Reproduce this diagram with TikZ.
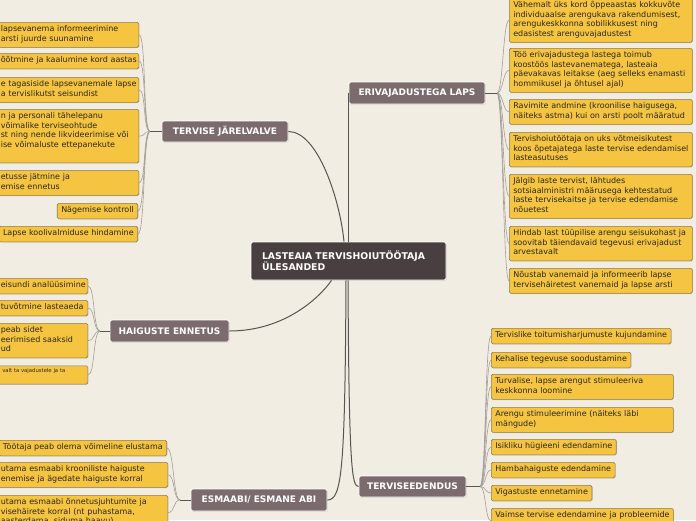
\documentclass[tikz,border=0pt]{standalone}
\usepackage{fontspec}
\setmainfont{DejaVu Sans}
\usetikzlibrary{shadows,calc}
\definecolor{bgc}{HTML}{F2EDE3}
\definecolor{leaffill}{HTML}{F5C542}
\definecolor{leafborder}{HTML}{8E7B4E}
\definecolor{leaftext}{HTML}{2B2620}
\definecolor{branchc}{HTML}{7B6B6D}
\definecolor{centerc}{HTML}{4A3F40}
\definecolor{mainln}{HTML}{5A5354}
\definecolor{leafln}{HTML}{A39D99}
\newcommand\tlines[1]{\begin{tabular}{@{}l@{}}#1\end{tabular}}
\begin{document}
\begin{tikzpicture}[x=1pt,y=-1pt,
  leaf/.style={draw=leafborder, fill=leaffill, rounded corners=1.5pt, line width=0.6pt,
    inner xsep=4pt, inner ysep=3pt, font=\fontsize{8}{9.5}\selectfont, text=leaftext, align=left,
    drop shadow={shadow xshift=0.6pt, shadow yshift=-0.7pt, opacity=0.25}},
  branch/.style={draw=white, line width=0.8pt, fill=branchc, rounded corners=1.5pt, text=white,
    font=\bfseries\fontsize{9}{11}\selectfont, inner sep=0pt,
    drop shadow={shadow xshift=0.6pt, shadow yshift=-0.7pt, opacity=0.3}},
  centerbox/.style={draw=white, line width=0.8pt, fill=centerc, rounded corners=1.5pt, text=white,
    font=\bfseries\fontsize{9.3}{11}\selectfont, align=left, inner xsep=11pt,
    drop shadow={shadow xshift=0.6pt, shadow yshift=-0.7pt, opacity=0.3}},
  mainline/.style={draw=mainln, line width=1pt},
  leafline/.style={draw=leafln, line width=0.6pt}
]
\useasboundingbox (0,0) rectangle (696,520);
\fill[bgc] (0,0) rectangle (696,520);

% hubs
\coordinate (TJhub) at (150,131.5);
\coordinate (ELhub) at (497,93);
\coordinate (HEhub) at (100,331);
\coordinate (EAhub) at (180,500);
\coordinate (TEhub) at (480,486.5);

% ---- leaves: TERVISE JARELVALVE
\node[leaf, anchor=north west, text width=134pt] (L1) at (-3.5,22) {\tlines{lapsevanema informeerimine\\arsti juurde suunamine}};
\node[leaf, anchor=north west, text width=134pt] (L2) at (-3.5,53) {\tlines{õõtmine ja kaalumine kord aastas}};
\node[leaf, anchor=north west, text width=134pt] (L3) at (-3.5,77) {\tlines{e tagasiside lapsevanemale lapse\\a tervislikutst seisundist}};
\node[leaf, anchor=north west, text width=134pt] (L4) at (-3.5,109) {\tlines{n ja personali tähelepanu\\võimalike terviseohtude\\st ning nende likvideerimise või\\ise võimaluste ettepanekute\\\mbox{}}};
\node[leaf, anchor=north west, text width=134pt] (L5) at (-3.5,170) {\tlines{etusse jätmine ja\\emise ennetus}};
\node[leaf, anchor=north east] (L6) at (138,203) {\tlines{Nägemise kontroll}};
\node[leaf, anchor=north east] (L7) at (138,226) {\tlines{Lapse koolivalmiduse hindamine}};

% ---- leaves: HAIGUSTE ENNETUS
\node[leaf, anchor=north west, text width=83pt] (H1) at (-3.5,278) {\tlines{eisundi analüüsimine}};
\node[leaf, anchor=north west, text width=83pt] (H2) at (-3.5,300) {\tlines{tuvõtmine lasteaeda}};
\node[leaf, anchor=north west, text width=83pt] (H3) at (-3.5,323) {\tlines{peab sidet\\eerimised saaksid\\ud}};
\node[leaf, anchor=north west, text width=83pt, font=\fontsize{5.3}{6}\selectfont, text height=3.9pt, text depth=8.4pt] (H4) at (-3.5,365.5) {\hspace*{1.5pt}valt ta vajadustele ja ta};

% ---- leaves: ESMAABI
\node[leaf, anchor=north east] (E1) at (167,440) {\tlines{Töötaja peab olema võimeline elustama}};
\node[leaf, anchor=north west, text width=163pt] (E2) at (-3.5,462) {\tlines{utama esmaabi krooniliste haiguste\\enemise ja ägedate haiguste korral}};
\node[leaf, anchor=north west, text width=163pt] (E3) at (-3.5,495) {\tlines{utama esmaabi õnnetusjuhtumite ja\\visehäirete korral (nt puhastama,\\aasterdama, siduma haavu)}};

% ---- leaves: ERIVAJADUSTEGA LAPS
\node[leaf, anchor=north west, text width=175pt] (R1) at (509,-2) {\tlines{Vähemalt üks kord õppeaastas kokkuvõte\\individuaalse arengukava rakendumisest,\\arengukeskkonna sobilikkusest ning\\edasistest arenguvajadustest}};
\node[leaf, anchor=north west, text width=175pt] (R2) at (509,48) {\tlines{Töö erivajadustega lastega toimub\\koostöös lastevanematega, lasteaia\\päevakavas leitakse (aeg selleks enamasti\\hommikusel ja õhtusel ajal)}};
\node[leaf, anchor=north west, text width=175pt] (R3) at (509,99) {\tlines{Ravimite andmine (kroonilise haigusega,\\näiteks astma) kui on arsti poolt määratud}};
\node[leaf, anchor=north west, text width=175pt] (R4) at (509,132) {\tlines{Tervishoiutöötaja on uks võtmeisikutest\\koos õpetajatega laste tervise edendamisel\\lasteasutuses}};
\node[leaf, anchor=north west, text width=175pt] (R5) at (509,174) {\tlines{Jälgib laste tervist, lähtudes\\sotsiaalministri määrusega kehtestatud\\laste tervisekaitse ja tervise edendamise\\nõuetest}};
\node[leaf, anchor=north west, text width=175pt] (R6) at (509,226) {\tlines{Hindab last tüüpilise arengu seisukohast ja\\soovitab täiendavaid tegevusi erivajadust\\arvestavalt}};
\node[leaf, anchor=north west, text width=175pt] (R7) at (509,268) {\tlines{Nõustab vanemaid ja informeerib lapse\\tervisehäiretest vanemaid ja lapse arsti}};

% ---- leaves: TERVISEEDENDUS
\node[leaf, anchor=north west] (T1) at (491,328) {\tlines{Tervislike toitumisharjumuste kujundamine}};
\node[leaf, anchor=north west] (T2) at (491,352) {\tlines{Kehalise tegevuse soodustamine}};
\node[leaf, anchor=north west, text width=174pt] (T3) at (491,374) {\tlines{Turvalise, lapse arengut stimuleeriva\\keskkonna loomine}};
\node[leaf, anchor=north west, text width=174pt] (T4) at (491,407) {\tlines{Arengu stimuleerimine (näiteks läbi\\mängude)}};
\node[leaf, anchor=north west] (T5) at (491,439) {\tlines{Isikliku hügieeni edendamine}};
\node[leaf, anchor=north west] (T6) at (491,462) {\tlines{Hambahaiguste edendamine}};
\node[leaf, anchor=north west] (T7) at (491,485) {\tlines{Vigastuste ennetamine}};
\node[leaf, anchor=north west, text width=174pt] (T8) at (491,508) {\tlines{Vaimse tervise edendamine ja probleemide\\\mbox{}}};

% ---- leaf connectors
\foreach \n in {L1,L2,L3,L4,L5,L6,L7}
  \draw[leafline] (TJhub) .. controls +(-7,0) and +(7,0) .. (\n.east);
\foreach \n in {H1,H2,H3,H4}
  \draw[leafline] (HEhub) .. controls +(-7,0) and +(7,0) .. (\n.east);
\foreach \n in {E1,E2,E3}
  \draw[leafline] (EAhub) .. controls +(-7,0) and +(7,0) .. (\n.east);
\foreach \n in {R1,R2,R3,R4,R5,R6,R7}
  \draw[leafline] (ELhub) .. controls +(6,0) and +(-6,0) .. (\n.west);
\foreach \n in {T1,T2,T3,T4,T5,T6,T7,T8}
  \draw[leafline] (TEhub) .. controls +(6,0) and +(-6,0) .. (\n.west);

% ---- branch nodes
\node[branch, minimum width=126pt, minimum height=21pt] (TJ) at (225,131.5) {TERVISE JÄRELVALVE};
\node[branch, minimum width=136pt, minimum height=22pt] (EL) at (417,93) {ERIVAJADUSTEGA LAPS};
\node[branch, minimum width=119pt, minimum height=22pt] (HE) at (169.5,331) {HAIGUSTE ENNETUS};
\node[branch, minimum width=136pt, minimum height=22pt] (EA) at (259,500) {ESMAABI/ ESMANE ABI};
\node[branch, minimum width=107pt, minimum height=21pt] (TE) at (412.5,486.5) {TERVISEEDENDUS};

% ---- hub stubs
\draw[mainline] (TJ.west) -- (TJhub);
\draw[mainline] (EL.east) -- (ELhub);
\draw[mainline] (HE.west) -- (HEhub);
\draw[mainline] (EA.west) -- (EAhub);
\draw[mainline, line width=1.4pt] (TE.east) -- (TEhub);

% ---- center
\node[centerbox, text width=173pt, minimum height=38pt] (C) at (348.5,261) {LASTEAIA TERVISHOIUTÖÖTAJA\\ÜLESANDED};

% ---- main connectors
\draw[mainline] ([xshift=-4.5pt]C.north) .. controls (340,200) and (318,131.5) .. (TJ.east);
\draw[mainline] ([xshift=-0.5pt]C.north) |- (EL.west);
\draw[mainline] ([xshift=-17pt]C.south) .. controls (320,297) and (285,331) .. (HE.east);
\draw[mainline] ([xshift=-2.5pt]C.south) .. controls (345,470) and (342,500) .. (EA.east);
\draw[mainline] ([xshift=-0.5pt]C.south) .. controls (349,470) and (352,486.5) .. (TE.west);
\end{tikzpicture}
\end{document}
